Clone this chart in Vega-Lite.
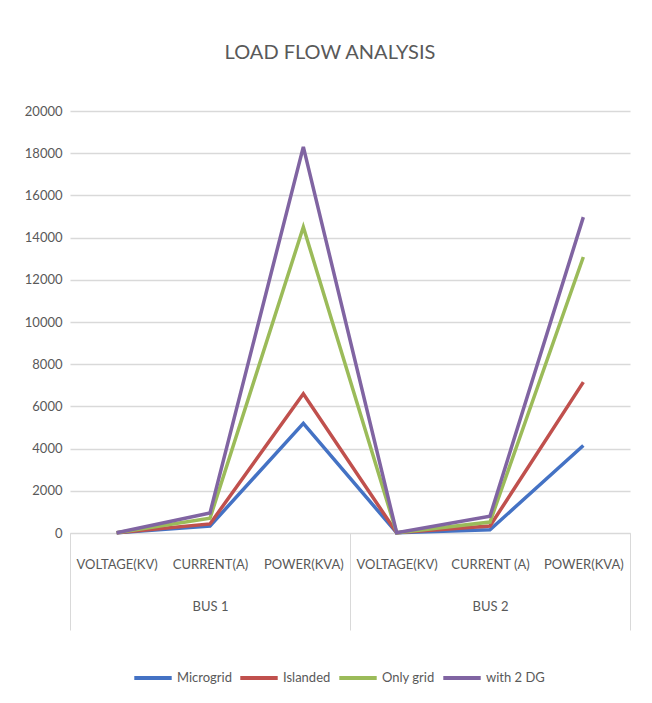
{
  "$schema": "https://vega.github.io/schema/vega-lite/v6.json",
  "autosize": "none",
  "width": 560,
  "height": 422,
  "padding": {"left": 70, "top": 111, "right": 22, "bottom": 170},
  "background": "white",
  "title": {
    "text": "LOAD FLOW ANALYSIS",
    "font": "Lato",
    "fontSize": 20,
    "fontWeight": "normal",
    "color": "#595959",
    "anchor": "middle",
    "dx": -20,
    "offset": 42
  },
  "data": {
    "values": [
      {"key": "1|VOLTAGE(KV)", "series": "Microgrid", "value": 11},
      {"key": "1|CURRENT(A)", "series": "Microgrid", "value": 330},
      {"key": "1|POWER(KVA)", "series": "Microgrid", "value": 5200},
      {"key": "2|VOLTAGE(KV)", "series": "Microgrid", "value": 11},
      {"key": "2|CURRENT (A)", "series": "Microgrid", "value": 150},
      {"key": "2|POWER(KVA)", "series": "Microgrid", "value": 4150},
      {"key": "1|VOLTAGE(KV)", "series": "Islanded", "value": 11},
      {"key": "1|CURRENT(A)", "series": "Islanded", "value": 430},
      {"key": "1|POWER(KVA)", "series": "Islanded", "value": 6600},
      {"key": "2|VOLTAGE(KV)", "series": "Islanded", "value": 11},
      {"key": "2|CURRENT (A)", "series": "Islanded", "value": 330},
      {"key": "2|POWER(KVA)", "series": "Islanded", "value": 7150},
      {"key": "1|VOLTAGE(KV)", "series": "Only grid", "value": 11},
      {"key": "1|CURRENT(A)", "series": "Only grid", "value": 700},
      {"key": "1|POWER(KVA)", "series": "Only grid", "value": 14500},
      {"key": "2|VOLTAGE(KV)", "series": "Only grid", "value": 11},
      {"key": "2|CURRENT (A)", "series": "Only grid", "value": 520},
      {"key": "2|POWER(KVA)", "series": "Only grid", "value": 13080},
      {"key": "1|VOLTAGE(KV)", "series": "with 2 DG", "value": 11},
      {"key": "1|CURRENT(A)", "series": "with 2 DG", "value": 950},
      {"key": "1|POWER(KVA)", "series": "with 2 DG", "value": 18300},
      {"key": "2|VOLTAGE(KV)", "series": "with 2 DG", "value": 11},
      {"key": "2|CURRENT (A)", "series": "with 2 DG", "value": 800},
      {"key": "2|POWER(KVA)", "series": "with 2 DG", "value": 14970}
    ]
  },
  "mark": {"type": "line", "strokeWidth": 3.5, "strokeJoin": "miter"},
  "encoding": {
    "x": {
      "field": "key",
      "type": "nominal",
      "sort": null,
      "scale": {"type": "band", "paddingInner": 0, "paddingOuter": 0},
      "axis": {
        "title": null,
        "tickBand": "extent",
        "tickSize": 97,
        "tickColor": "#d9d9d9",
        "tickOpacity": {"condition": {"test": "datum.extra || datum.value == '1|POWER(KVA)' || datum.value == '2|POWER(KVA)'", "value": 1}, "value": 0},
        "domainColor": "#d9d9d9",
        "labelAngle": 0,
        "labelPadding": -72,
        "labelFont": "Lato",
        "labelFontSize": 13,
        "labelColor": "#595959",
        "labelLineHeight": 42,
        "labelBaseline": "top",
        "labelExpr": "datum.value == '1|CURRENT(A)' ? ['CURRENT(A)', 'BUS 1'] : datum.value == '2|CURRENT (A)' ? ['CURRENT (A)', 'BUS 2'] : split(datum.value, '|')[1]",
        "grid": false
      }
    },
    "y": {
      "field": "value",
      "type": "quantitative",
      "scale": {"domain": [0, 20000], "nice": false},
      "axis": {
        "title": null,
        "values": [0, 2000, 4000, 6000, 8000, 10000, 12000, 14000, 16000, 18000, 20000],
        "format": "d",
        "domain": false,
        "ticks": false,
        "labelPadding": 8,
        "labelFont": "Lato",
        "labelFontSize": 13,
        "labelColor": "#595959",
        "gridColor": "#d9d9d9",
        "gridWidth": 1.5
      }
    },
    "color": {
      "field": "series",
      "type": "nominal",
      "sort": ["Microgrid", "Islanded", "Only grid", "with 2 DG"],
      "scale": {
        "domain": ["Microgrid", "Islanded", "Only grid", "with 2 DG"],
        "range": ["#4472c4", "#c0504d", "#9bbb59", "#8064a2"]
      },
      "legend": {
        "title": null,
        "orient": "none",
        "direction": "horizontal",
        "legendX": 62,
        "legendY": 546,
        "symbolType": "stroke",
        "symbolSize": 1400,
        "symbolStrokeWidth": 4,
        "labelFont": "Lato",
        "labelFontSize": 13,
        "labelColor": "#595959",
        "labelOffset": 3,
        "columnPadding": 0
      }
    }
  },
  "config": {
    "view": {"stroke": null}
  }
}
